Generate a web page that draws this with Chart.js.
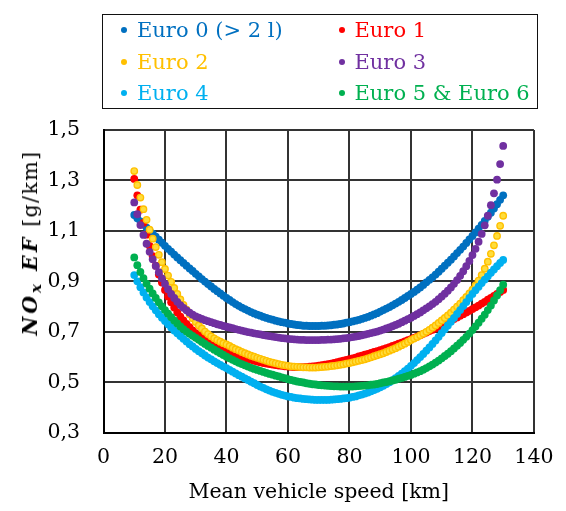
<!DOCTYPE html>
<html><head><meta charset="utf-8">
<script src="https://cdn.jsdelivr.net/npm/chart.js@4.4.1/dist/chart.umd.min.js"></script>
<style>
html,body{margin:0;padding:0;background:#fff;}
#wrap{position:relative;width:566px;height:511px;overflow:hidden;background:#fff;}
#c{position:absolute;left:0;top:0;}
#legend{position:absolute;left:102px;top:14px;width:436px;height:95px;border:1.5px solid #111;box-sizing:border-box;font-family:'DejaVu Serif',serif;font-size:21px;}
.item{position:absolute;height:24px;line-height:24px;white-space:nowrap;}
.dot{display:inline-block;width:6px;height:6px;border-radius:50%;vertical-align:middle;margin-right:10px;position:relative;top:-1px;}
#ytitle{position:absolute;left:30px;top:243px;transform:translate(-50%,-50%) rotate(-90deg);white-space:nowrap;font-family:'DejaVu Serif',serif;font-size:20.5px;color:#000;line-height:24px;letter-spacing:1.4px;}
#ytitle b{letter-spacing:3px;}
#ytitle sub{font-size:0.72em;vertical-align:-0.3em;line-height:0;}
</style></head>
<body>
<div id="wrap">
<canvas id="c" width="566" height="511"></canvas>
<div id="legend"></div>
<div id="ytitle"><b><i>NO<sub>x</sub> EF</i></b> [g/km]</div>
</div>
<script>
const speeds = [10,11,12,13,14,15,16,17,18,19,
20,21,22,23,24,25,26,27,28,29,
30,31,32,33,34,35,36,37,38,39,
40,41,42,43,44,45,46,47,48,49,
50,51,52,53,54,55,56,57,58,59,
60,61,62,63,64,65,66,67,68,69,
70,71,72,73,74,75,76,77,78,79,
80,81,82,83,84,85,86,87,88,89,
90,91,92,93,94,95,96,97,98,99,
100,101,102,103,104,105,106,107,108,109,
110,111,112,113,114,115,116,117,118,119,
120,121,122,123,124,125,126,127,128,129,
130];

const euro0 = [1.163,1.150,1.138,1.125,1.113,1.101,1.089,1.077,1.065,1.053,
1.041,1.029,1.018,1.006,0.995,0.984,0.973,0.962,0.951,0.941,
0.930,0.920,0.909,0.899,0.889,0.880,0.870,0.861,0.852,0.843,
0.834,0.826,0.818,0.810,0.803,0.796,0.790,0.784,0.778,0.773,
0.768,0.764,0.759,0.755,0.751,0.748,0.744,0.741,0.738,0.736,
0.733,0.731,0.729,0.727,0.726,0.724,0.724,0.723,0.723,0.723,
0.723,0.724,0.724,0.725,0.726,0.728,0.729,0.731,0.733,0.736,
0.738,0.741,0.744,0.747,0.751,0.755,0.759,0.764,0.769,0.774,
0.780,0.786,0.792,0.798,0.805,0.812,0.819,0.826,0.834,0.842,
0.850,0.858,0.867,0.876,0.886,0.896,0.906,0.916,0.927,0.938,
0.950,0.962,0.974,0.986,0.999,1.012,1.025,1.038,1.052,1.066,
1.080,1.094,1.109,1.124,1.140,1.156,1.172,1.189,1.206,1.223,
1.241];

const euro1 = [1.306,1.241,1.184,1.132,1.085,1.041,1.000,0.962,0.927,0.895,
0.866,0.840,0.817,0.796,0.777,0.760,0.745,0.731,0.718,0.706,
0.695,0.685,0.676,0.667,0.659,0.652,0.645,0.639,0.633,0.627,
0.622,0.617,0.612,0.608,0.604,0.600,0.596,0.592,0.589,0.585,
0.582,0.579,0.576,0.574,0.572,0.570,0.568,0.566,0.565,0.563,
0.562,0.561,0.560,0.560,0.560,0.560,0.561,0.562,0.563,0.564,
0.566,0.568,0.570,0.572,0.574,0.577,0.580,0.583,0.586,0.589,
0.592,0.595,0.598,0.602,0.605,0.609,0.612,0.616,0.620,0.623,
0.627,0.631,0.635,0.639,0.644,0.648,0.653,0.657,0.662,0.667,
0.671,0.676,0.681,0.686,0.692,0.697,0.703,0.708,0.714,0.720,
0.726,0.732,0.738,0.744,0.751,0.757,0.764,0.770,0.777,0.783,
0.790,0.797,0.804,0.812,0.819,0.827,0.834,0.842,0.850,0.858,
0.866];

const euro2 = [1.337,1.282,1.232,1.186,1.144,1.105,1.069,1.036,1.005,0.976,
0.949,0.923,0.898,0.874,0.850,0.828,0.807,0.788,0.770,0.754,
0.739,0.725,0.713,0.701,0.691,0.682,0.674,0.667,0.661,0.655,
0.650,0.644,0.637,0.631,0.626,0.620,0.615,0.610,0.605,0.601,
0.597,0.593,0.589,0.585,0.581,0.578,0.575,0.572,0.569,0.567,
0.565,0.563,0.562,0.561,0.560,0.559,0.559,0.558,0.558,0.558,
0.559,0.560,0.561,0.562,0.564,0.565,0.567,0.569,0.571,0.574,
0.576,0.579,0.582,0.585,0.588,0.591,0.595,0.599,0.603,0.607,
0.611,0.615,0.620,0.625,0.630,0.635,0.641,0.647,0.653,0.660,
0.667,0.673,0.679,0.686,0.693,0.700,0.708,0.716,0.725,0.735,
0.745,0.755,0.765,0.776,0.788,0.800,0.812,0.825,0.838,0.852,
0.867,0.884,0.903,0.925,0.950,0.978,1.009,1.043,1.080,1.120,
1.160];

const euro3 = [1.213,1.166,1.123,1.084,1.049,1.017,0.988,0.961,0.936,0.912,
0.890,0.869,0.850,0.834,0.819,0.806,0.795,0.785,0.776,0.768,
0.761,0.756,0.751,0.746,0.742,0.738,0.734,0.730,0.727,0.723,
0.720,0.717,0.714,0.711,0.708,0.705,0.702,0.699,0.697,0.694,
0.692,0.690,0.687,0.685,0.683,0.681,0.679,0.677,0.675,0.674,
0.672,0.671,0.670,0.669,0.668,0.668,0.667,0.667,0.667,0.667,
0.667,0.668,0.668,0.669,0.669,0.670,0.671,0.672,0.674,0.675,
0.677,0.679,0.681,0.683,0.686,0.689,0.692,0.695,0.698,0.701,
0.705,0.709,0.713,0.717,0.722,0.727,0.732,0.738,0.744,0.750,
0.756,0.763,0.770,0.777,0.785,0.793,0.801,0.810,0.819,0.829,
0.840,0.851,0.863,0.876,0.890,0.905,0.922,0.940,0.960,0.981,
1.004,1.029,1.057,1.088,1.122,1.160,1.202,1.249,1.303,1.365,
1.437];

const euro4 = [0.925,0.900,0.877,0.856,0.836,0.818,0.801,0.785,0.770,0.756,
0.743,0.730,0.717,0.705,0.694,0.683,0.672,0.662,0.651,0.642,
0.632,0.623,0.615,0.606,0.598,0.591,0.583,0.576,0.569,0.562,
0.556,0.549,0.542,0.535,0.528,0.522,0.515,0.509,0.502,0.496,
0.489,0.483,0.478,0.472,0.467,0.462,0.458,0.454,0.450,0.447,
0.444,0.442,0.439,0.437,0.436,0.434,0.433,0.432,0.431,0.430,
0.430,0.430,0.430,0.430,0.431,0.432,0.433,0.434,0.436,0.437,
0.439,0.442,0.444,0.448,0.451,0.455,0.459,0.464,0.469,0.474,
0.480,0.486,0.493,0.500,0.508,0.516,0.525,0.534,0.544,0.554,
0.565,0.576,0.588,0.600,0.612,0.625,0.638,0.652,0.666,0.680,
0.695,0.710,0.725,0.740,0.755,0.771,0.786,0.802,0.818,0.834,
0.850,0.865,0.879,0.893,0.907,0.920,0.934,0.947,0.960,0.973,
0.985];

const euro56 = [0.995,0.964,0.937,0.913,0.891,0.871,0.852,0.834,0.817,0.801,
0.786,0.772,0.758,0.745,0.733,0.721,0.711,0.701,0.692,0.684,
0.676,0.668,0.660,0.652,0.644,0.637,0.629,0.622,0.615,0.608,
0.601,0.595,0.589,0.583,0.577,0.572,0.567,0.562,0.557,0.553,
0.549,0.545,0.541,0.537,0.533,0.530,0.526,0.523,0.519,0.516,
0.512,0.509,0.506,0.503,0.501,0.499,0.496,0.494,0.492,0.491,
0.489,0.488,0.487,0.486,0.485,0.484,0.484,0.483,0.483,0.483,
0.483,0.483,0.484,0.485,0.486,0.487,0.488,0.490,0.491,0.493,
0.496,0.499,0.501,0.504,0.507,0.510,0.514,0.517,0.521,0.525,
0.529,0.534,0.539,0.544,0.550,0.556,0.563,0.570,0.578,0.586,
0.595,0.604,0.613,0.623,0.634,0.645,0.656,0.668,0.680,0.693,
0.707,0.721,0.736,0.752,0.768,0.786,0.804,0.824,0.844,0.865,
0.887];

const seriesNames = ['Euro 0 (> 2 l)', 'Euro 1', 'Euro 2', 'Euro 3', 'Euro 4', 'Euro 5 & Euro 6'];
const seriesValues = [euro0, euro1, euro2, euro3, euro4, euro56];
const seriesColors = ['#0070C0', '#FF0000', '#FFC000', '#7030A0', '#00B0F0', '#00B050'];
const xTicks = [0, 20, 40, 60, 80, 100, 120, 140];
const yTicks = [0.3, 0.5, 0.7, 0.9, 1.1, 1.3, 1.5];
const xTitle = 'Mean vehicle speed [km]';

// legend (HTML, real text)
const legend = document.getElementById('legend');
const colDot = [21, 238.5];
const rowMid = [14.5, 46.5, 77.5];
seriesNames.forEach((name, i) => {
  const d = document.createElement('div');
  d.className = 'item';
  d.style.left = (colDot[i % 2] - 3) + 'px';
  d.style.top = (rowMid[Math.floor(i / 2)] - 12) + 'px';
  d.style.color = seriesColors[i];
  const dot = document.createElement('span');
  dot.className = 'dot';
  dot.style.background = seriesColors[i];
  const t = document.createElement('span');
  t.textContent = name;
  d.appendChild(dot); d.appendChild(t);
  legend.appendChild(d);
});

const font = {family: "'DejaVu Serif', serif", size: 20.5};

const datasets = seriesValues.map((vals, i) => {
  const isGold = i === 2;
  return {
    label: seriesNames[i],
    data: speeds.map((s, k) => ({x: s, y: vals[k]})),
    showLine: false,
    pointRadius: isGold ? 3.2 : 3.9,
    pointHoverRadius: isGold ? 3.2 : 3.9,
    pointBorderWidth: isGold ? 1.4 : 0,
    pointBackgroundColor: isGold ? '#FFDD3C' : seriesColors[i],
    pointBorderColor: seriesColors[i],
    order: 5 - i
  };
});

new Chart(document.getElementById('c'), {
  type: 'scatter',
  data: {datasets},
  options: {
    responsive: false,
    devicePixelRatio: 1,
    animation: false,
    events: [],
    layout: {padding: {left: 0, top: 130, right: 27.5, bottom: 0}},
    plugins: {legend: {display: false}, tooltip: {enabled: false}},
    scales: {
      x: {
        type: 'linear', min: 0, max: 140,
        afterBuildTicks: s => { s.ticks = xTicks.map(v => ({value: v})); },
        afterFit: s => { s.height = 78.3; },
        grid: {color: '#333333', lineWidth: 2, drawTicks: false},
        border: {color: '#000', width: 2},
        ticks: {font, color: '#000', padding: 12.5, maxRotation: 0, callback: v => String(v)},
        title: {display: true, text: xTitle, font, color: '#000', padding: {top: 0, bottom: 6}}
      },
      y: {
        type: 'linear', min: 0.3, max: 1.5,
        afterBuildTicks: s => { s.ticks = yTicks.map(v => ({value: v})); },
        afterFit: s => { s.width = 103.5; },
        grid: {color: '#333333', lineWidth: 2, drawTicks: false},
        border: {color: '#000', width: 2},
        ticks: {font, color: '#000', padding: 23.5, callback: v => v.toFixed(1).replace('.', ',')}
      }
    }
  }
});
</script>
</body></html>
